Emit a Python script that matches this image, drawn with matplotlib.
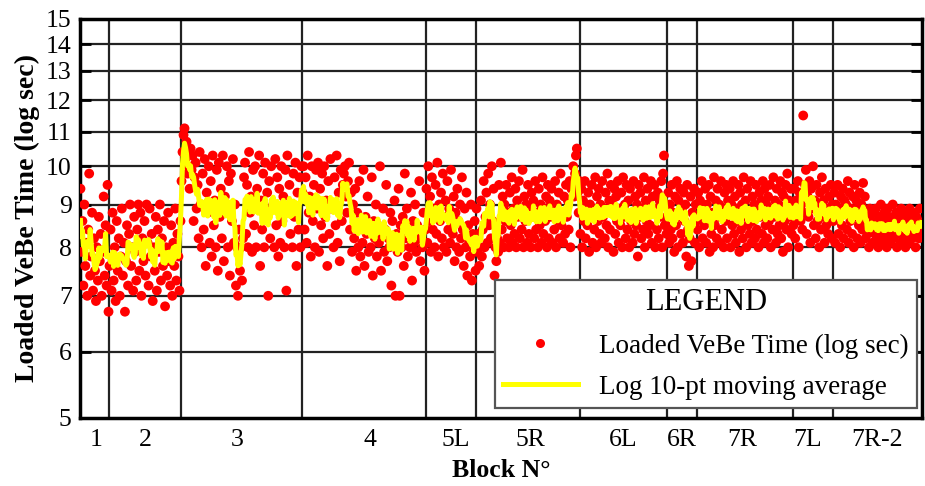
import numpy as np
import pandas as pd
import matplotlib
matplotlib.use('Agg')
import matplotlib.pyplot as plt
from matplotlib.lines import Line2D

plt.rcParams['font.family'] = ['Liberation Serif', 'DejaVu Serif']

# block names, block boundaries (x units) and where the block names sit
block_names = ['1', '2', '3', '4', '5L', '5R', '6L', '6R', '7R', '7L', '7R-2']
block_edges = [0, 29, 101, 222, 346, 396, 500, 587, 617, 713, 753, 842]
block_label_x = [16, 65, 157, 290, 376, 450, 543, 602, 662, 728, 797]

# loaded VeBe time (sec), in test order, one list per block
b1 = [9.4, 7.9, 8.6, 7.2, 9.0, 7.6, 8.1, 7.0, 8.4, 9.8, 7.4, 7.8, 8.8, 7.1, 8.2,
      7.5, 6.9, 8.0, 7.3, 8.7, 7.7, 8.3, 7.0, 7.9, 9.2, 7.4, 8.5, 7.2, 9.5, 6.7]
b2 = [7.6, 8.4, 7.1, 8.8, 7.3, 8.0, 6.9, 8.6, 7.5, 8.2, 7.0, 7.8, 8.9, 7.4, 8.1, 6.7, 7.7, 8.5, 7.2, 8.3,
      9.0, 7.6, 8.0, 7.1, 8.7, 7.9, 7.3, 8.4, 9.0, 7.5, 8.8, 7.0, 8.2, 7.7, 8.6, 7.4, 9.0, 8.1, 7.2, 8.9,
      7.8, 8.3, 6.9, 8.0, 7.5, 8.7, 7.1, 8.4, 7.9, 9.0, 7.3, 8.2, 7.6, 8.6, 6.8, 8.0, 7.4, 8.8, 7.7, 7.2,
      8.5, 7.0, 8.1, 7.6, 8.9, 7.3, 8.3, 7.8, 7.1, 8.6]
b3 = [9.6, 10.4, 10.9, 11.1, 10.2, 10.7, 9.8, 10.0, 9.4, 10.5,
      9.9, 10.3, 8.6, 9.7, 10.1, 8.9, 9.5, 8.2, 10.4, 9.0,
      8.0, 9.8, 8.4, 10.2, 7.6, 9.3, 8.8, 10.0, 8.1, 9.6,
      7.8, 10.3, 8.5, 9.1, 8.0, 9.9, 7.5, 10.1, 8.7, 9.4,
      8.2, 10.3, 7.7, 9.2, 8.9, 10.0, 8.0, 9.6, 7.4, 9.8,
      8.6, 10.2, 8.1, 9.0, 7.2, 8.0, 7.0, 8.4, 7.5, 8.0,
      7.3, 8.2, 9.7, 10.1, 8.3, 9.5, 8.0, 10.4, 8.8, 9.2,
      7.9, 9.9, 8.5, 10.0, 8.0, 9.4, 8.9, 10.3, 7.6, 9.1,
      8.4, 9.8, 8.0, 10.1, 8.7, 9.3, 7.0, 9.6, 8.2, 10.0,
      8.9, 9.0, 8.0, 10.2, 8.5, 9.7, 7.8, 9.4, 8.1, 10.0,
      8.6, 9.2, 8.0, 9.9, 7.1, 10.3, 8.8, 9.5, 8.3, 9.0,
      8.0, 9.8, 8.7, 10.1, 7.6, 9.3, 8.4, 9.7, 8.0, 10.0]
b4 = [9.3, 10.0, 8.4, 9.7, 8.1, 10.3, 8.8, 9.2, 7.8, 10.0,
      8.6, 9.5, 8.0, 9.9, 8.9, 10.1, 7.9, 9.4, 8.5, 9.8,
      8.2, 10.0, 8.7, 9.1, 7.6, 9.6, 8.3, 10.2, 8.9, 9.0,
      8.0, 9.7, 8.5, 10.3, 8.1, 9.3, 7.7, 9.9, 8.6, 9.5,
      9.8, 10.0, 9.2, 8.8, 9.6, 10.1, 8.4, 9.3, 7.9, 9.0,
      8.2, 9.4, 7.5, 8.8, 8.0, 9.6, 7.8, 8.5, 8.1, 9.9,
      7.6, 8.7, 8.3, 9.2, 7.9, 8.4, 8.0, 9.7, 7.4, 8.6,
      8.2, 9.0, 7.8, 8.5, 8.1, 10.0, 7.5, 8.3, 8.9, 7.9,
      8.4, 9.5, 7.7, 8.2, 8.0, 8.8, 7.2, 8.6, 8.1, 9.1,
      7.0, 8.3, 7.9, 9.4, 7.0, 8.5, 8.0, 8.7, 7.6, 9.8,
      8.2, 8.9, 7.8, 8.4, 8.0, 9.3, 7.3, 8.6, 8.1, 9.0,
      7.9, 8.5, 8.2, 9.6, 7.7, 8.3, 8.0, 8.8, 7.5, 8.4]
b5l = [9.4, 8.1, 10.0, 8.6, 9.2, 7.9, 9.7, 8.4, 8.9, 8.0,
       9.5, 8.3, 10.1, 7.8, 9.0, 8.6, 9.3, 8.2, 9.8, 8.0,
       8.7, 9.1, 7.9, 9.6, 8.4, 8.9, 8.1, 9.9, 8.5, 8.3,
       9.2, 7.7, 8.8, 8.0, 9.4, 8.6, 7.9, 9.0, 8.2, 9.7,
       8.4, 7.6, 8.9, 8.0, 9.3, 7.4, 8.5, 8.1, 7.8, 9.0,
       7.3, 8.3, 7.9, 8.6, 7.5]
b5r = [8.9, 7.9, 8.3, 7.6, 8.0, 9.1, 7.8, 8.4, 9.6, 8.0,
       8.7, 9.3, 8.1, 9.8, 8.5, 9.0, 8.2, 10.0, 8.6, 9.4,
       7.4, 8.0, 7.7, 8.2, 7.9, 9.5, 8.1, 10.1, 8.4, 9.2,
       8.0, 9.0, 8.6, 9.5, 8.2, 8.8, 8.0, 9.3, 8.5, 9.7,
       8.1, 8.9, 8.3, 9.4, 8.0, 9.1, 8.7, 9.6, 8.2, 8.8,
       8.4, 9.9, 8.0, 9.2, 8.6, 9.0, 8.1, 9.5, 8.3, 8.9,
       8.0, 9.3, 8.7, 9.1, 8.2, 9.6, 8.4, 8.8, 8.0, 9.4,
       8.5, 9.0, 8.1, 9.7, 8.3, 8.9, 8.6, 9.2, 8.0, 9.5,
       8.2, 9.1, 8.7, 9.4, 8.1, 8.9, 8.4, 9.6, 8.0, 9.0,
       8.6, 9.3, 8.2, 9.8, 8.5, 8.8, 8.1, 9.2, 8.3, 9.5,
       8.7, 9.1, 8.4, 9.6, 8.0, 9.4, 9.5, 10.0, 9.2, 9.8,
       10.3, 10.5, 9.3, 8.8, 9.6]
b6l = [8.3, 9.4, 8.0, 9.1, 8.6, 9.6, 8.2, 8.9, 8.5, 9.3,
       7.9, 9.0, 8.7, 9.5, 8.1, 8.8, 8.4, 9.7, 8.0, 9.2,
       8.6, 9.4, 8.3, 9.0, 8.1, 9.6, 8.7, 8.9, 8.2, 9.3,
       8.5, 9.8, 8.0, 9.1, 8.4, 9.5, 8.8, 9.0, 7.9, 9.4,
       8.3, 9.2, 8.6, 9.6, 8.1, 8.9, 8.5, 9.3, 8.0, 9.7,
       8.7, 9.0, 8.2, 9.5, 8.4, 9.1, 8.0, 9.4, 8.6, 8.8,
       8.1, 9.6, 8.3, 9.2, 8.5, 9.0, 7.8, 9.5, 8.7, 9.3,
       8.2, 8.9, 8.4, 9.7, 8.0, 9.1, 8.6, 9.4, 8.3, 9.0,
       8.5, 9.6, 8.1, 9.2, 8.8, 9.5, 8.0, 8.9, 8.4, 9.3,
       8.2, 9.1, 8.7, 9.6, 8.0, 9.8, 10.3, 8.5, 9.0, 8.3]
b6r = [8.6, 9.3, 8.1, 9.0, 8.4, 9.5, 8.2, 8.8, 7.9, 9.2,
       8.5, 9.6, 8.0, 9.1, 8.7, 9.4, 8.3, 8.9, 8.1, 9.3,
       8.6, 9.0, 7.8, 9.5, 8.4, 7.6, 8.2, 9.2, 7.7, 8.8,
       8.5, 9.4, 8.1, 9.0, 8.6]
b7r = [8.4, 9.3, 8.0, 9.1, 8.7, 9.6, 8.2, 8.9, 8.5, 9.4,
       8.1, 9.0, 8.6, 9.5, 7.9, 9.2, 8.3, 8.8, 8.0, 9.7,
       8.5, 9.1, 8.2, 9.4, 8.7, 9.0, 8.1, 9.6, 8.4, 8.9,
       8.0, 9.3, 8.6, 9.5, 8.2, 9.1, 8.8, 9.4, 8.0, 9.0,
       8.5, 9.6, 8.3, 9.2, 8.1, 8.9, 8.6, 9.5, 7.9, 9.3,
       8.4, 9.0, 8.2, 9.7, 8.7, 9.1, 8.0, 9.4, 8.5, 8.8,
       8.3, 9.6, 8.1, 9.2, 8.6, 9.0, 8.2, 9.5, 8.4, 8.9,
       8.0, 9.3, 8.7, 9.1, 8.3, 9.6, 8.1, 9.4, 8.5, 9.0,
       8.2, 9.2, 8.6, 9.5, 8.0, 8.9, 8.4, 9.7, 8.7, 9.1,
       8.1, 9.4, 8.3, 9.0, 8.5, 9.6, 8.2, 9.3, 7.9, 9.2,
       8.6, 9.5, 8.4, 9.8, 8.0, 9.1, 8.7, 9.4, 8.3, 9.0]
b7l = [8.5, 9.4, 8.2, 9.1, 8.7, 9.6, 8.0, 9.3, 8.6, 9.0,
       8.4, 11.5, 8.8, 9.5, 9.9, 8.3, 9.2, 8.7, 9.6, 8.1,
       9.4, 8.9, 10.0, 8.5, 9.1, 8.2, 9.5, 8.6, 9.0, 8.0,
       9.3, 8.4, 9.7, 8.7, 9.1, 8.1, 9.4, 8.5, 8.9, 8.3,
       9.2, 8.6, 9.5, 8.2, 9.0]
b7r2 = [8.6, 9.3, 8.1, 9.0, 8.7, 9.5, 8.3, 8.9, 8.0, 9.2,
        8.5, 9.4, 8.2, 9.1, 8.8, 9.0, 8.4, 9.6, 8.1, 9.3,
        8.6, 8.9, 8.3, 9.2, 8.0, 9.5, 8.7, 9.1, 8.2, 8.9,
        8.5, 9.3, 8.1, 9.0, 8.4, 9.55, 8.6, 9.2, 8.2, 8.8,
        8.3, 8.7, 8.0, 8.9, 8.4, 8.6, 8.1, 8.8, 8.5, 8.3,
        8.9, 8.2, 8.6, 8.0, 8.7, 8.4, 9.0, 8.1, 8.5, 8.3,
        8.8, 8.2, 8.6, 8.0, 8.9, 8.4, 8.7, 8.1, 8.5, 8.3,
        9.0, 8.2, 8.6, 8.4, 8.8, 8.0, 8.7, 8.3, 8.5, 8.1,
        8.9, 8.4, 8.6, 8.2, 8.8, 8.0, 8.5, 8.3, 8.7, 8.1,
        8.9, 8.4, 8.6, 8.2, 8.8, 8.3, 8.5, 8.0, 8.7, 8.4,
        8.6, 8.2, 8.9, 8.3, 8.5]

blocks = [b1, b2, b3, b4, b5l, b5r, b6l, b6r, b7r, b7l, b7r2]

# spread each block's tests evenly over its stretch of the axis
xs = []
for lo, hi, vals in zip(block_edges[:-1], block_edges[1:], blocks):
    n = len(vals)
    xs.append(lo + (np.arange(n) + 0.5) * (hi - lo) / n)
x = np.concatenate(xs)
y = np.concatenate([np.array(b, dtype=float) for b in blocks])

# moving average of log values (short window so it wiggles like the original)
ma = 10 ** pd.Series(np.log10(y)).rolling(5, center=True, min_periods=1).mean()

fig = plt.figure(figsize=(9.25, 4.86), dpi=100)
ax = fig.add_axes([80 / 925, 68 / 486, 842 / 925, 399 / 486])

ax.scatter(x, y, s=50, color='#ff0000', edgecolors='none', zorder=3)
ax.plot(x, ma, color='#ffff00', lw=3.6, zorder=4)

ax.set_yscale('log')
ax.set_ylim(5, 15)
ax.set_xlim(block_edges[0], block_edges[-1])
yt = list(range(5, 16))
ax.set_yticks(yt)
ax.set_yticklabels([str(v) for v in yt])
ax.minorticks_off()
ax.set_xticks(block_label_x)
ax.set_xticklabels(block_names)

for v in yt[1:-1]:
    ax.axhline(v, color='#222222', lw=1.6, zorder=1)
for e in block_edges[1:-1]:
    ax.axvline(e, color='#222222', lw=1.6, zorder=1)

for s in ax.spines.values():
    s.set_linewidth(2.5)
ax.tick_params(axis='y', direction='in', length=8, width=2, right=True,
               labelsize=18.5, pad=6)
ax.tick_params(axis='x', length=0, labelsize=18.5, pad=8)

ax.set_ylabel('Loaded VeBe Time (log sec)', fontsize=20, fontweight='bold', labelpad=4)
ax.set_xlabel('Block N°', fontsize=18.5, fontweight='bold', labelpad=6)

handles = [Line2D([], [], ls='none', marker='o', color='#ff0000', markersize=6.5,
                  markeredgewidth=0),
           Line2D([], [], color='#ffff00', lw=3.6)]
leg = ax.legend(handles, ['Loaded VeBe Time (log sec)', 'Log 10-pt moving average'],
                title='LEGEND', loc='lower left', bbox_to_anchor=(415 / 842, 10 / 399),
                borderaxespad=0, fontsize=19.5, title_fontsize=22,
                handlelength=2.75, handletextpad=0.8, borderpad=0.3,
                labelspacing=0.6, fancybox=False, framealpha=1, edgecolor='#555555')
leg.get_frame().set_linewidth(1.6)
leg.set_zorder(10)

fig.savefig('out.png', dpi=100)
